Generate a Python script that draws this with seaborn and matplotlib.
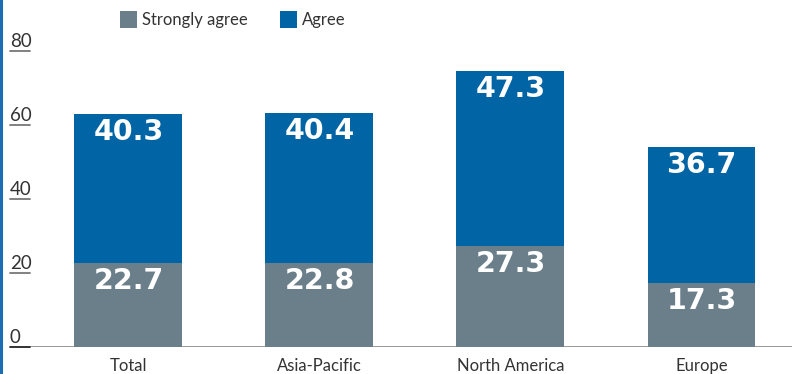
import matplotlib
matplotlib.use("Agg")
import matplotlib.pyplot as plt
from matplotlib.patches import Rectangle
from matplotlib.lines import Line2D
import seaborn as sns
import pandas as pd

regions = ["Total", "Asia-Pacific", "North America", "Europe"]
strongly_agree = [22.7, 22.8, 27.3, 17.3]
agree = [40.3, 40.4, 47.3, 36.7]
y_ticks = [0, 20, 40, 60, 80]
series_names = ["Strongly agree", "Agree"]

GREY = "#6b7f8b"
BLUE = "#0064a5"
TEXT = "#333333"

sns.set_theme(style="white")
plt.rcParams["font.family"] = ["Lato", "DejaVu Sans"]

df = pd.DataFrame({
    "region": regions,
    "strong": strongly_agree,
    "agree": agree,
})
df["total"] = df["strong"] + df["agree"]

W, H = 792, 374
fig = plt.figure(figsize=(W / 100, H / 100), dpi=100)
ax = fig.add_axes([10 / W, 27 / H, 782 / W, 347 / H])

bar_w = 0.565
sns.barplot(data=df, x="region", y="total", color=BLUE, saturation=1,
            width=bar_w, linewidth=0, edgecolor="none", ax=ax, zorder=2)
sns.barplot(data=df, x="region", y="strong", color=GREY, saturation=1,
            width=bar_w, linewidth=0, edgecolor="none", ax=ax, zorder=3)

ax.set_xlim(-0.62, 3.474)
ax.set_ylim(0, 93.8)
for s in ax.spines.values():
    s.set_visible(False)
ax.set_xlabel("")
ax.set_ylabel("")
ax.set_yticks([])
ax.tick_params(axis="x", length=0, pad=8, labelsize=12, labelcolor=TEXT)

# y tick labels sitting on short underline stubs
stub = 20 / 782
for t in y_ticks:
    ax.axhline(t, xmin=0, xmax=stub, color="#222222" if t == 0 else "#777777",
               lw=1.3, clip_on=False, zorder=4)
    ax.annotate(str(t), xy=(0, t), xycoords=("axes fraction", "data"),
                xytext=(0, 3), textcoords="offset points",
                ha="left", va="baseline", fontsize=13.5, color=TEXT)
ax.axhline(0, xmin=stub, xmax=1, color="#888888", lw=1.2, zorder=1)

# value labels near the top of each segment
for i, (s, a) in enumerate(zip(strongly_agree, agree)):
    for top, val in ((s, s), (s + a, a)):
        ax.annotate(f"{val:.1f}", xy=(i, top), xytext=(0, -13),
                    textcoords="offset points", ha="center", va="center",
                    fontsize=20.5, fontweight="bold", color="white",
                    family="DejaVu Sans", zorder=5)

# legend
for x0, name, col in ((120, series_names[0], GREY), (280, series_names[1], BLUE)):
    fig.add_artist(Rectangle((x0 / W, 1 - 28 / H), 17 / W, 17 / H,
                             transform=fig.transFigure, color=col, lw=0))
    fig.text((x0 + 22) / W, 1 - 20 / H, name, ha="left", va="center",
             fontsize=12, color=TEXT)

# left accent rule
fig.add_artist(Line2D([1 / W, 1 / W], [0, 1], transform=fig.transFigure,
                      color="#1b6eb2", lw=2.2))

fig.savefig("out.png", dpi=100)
